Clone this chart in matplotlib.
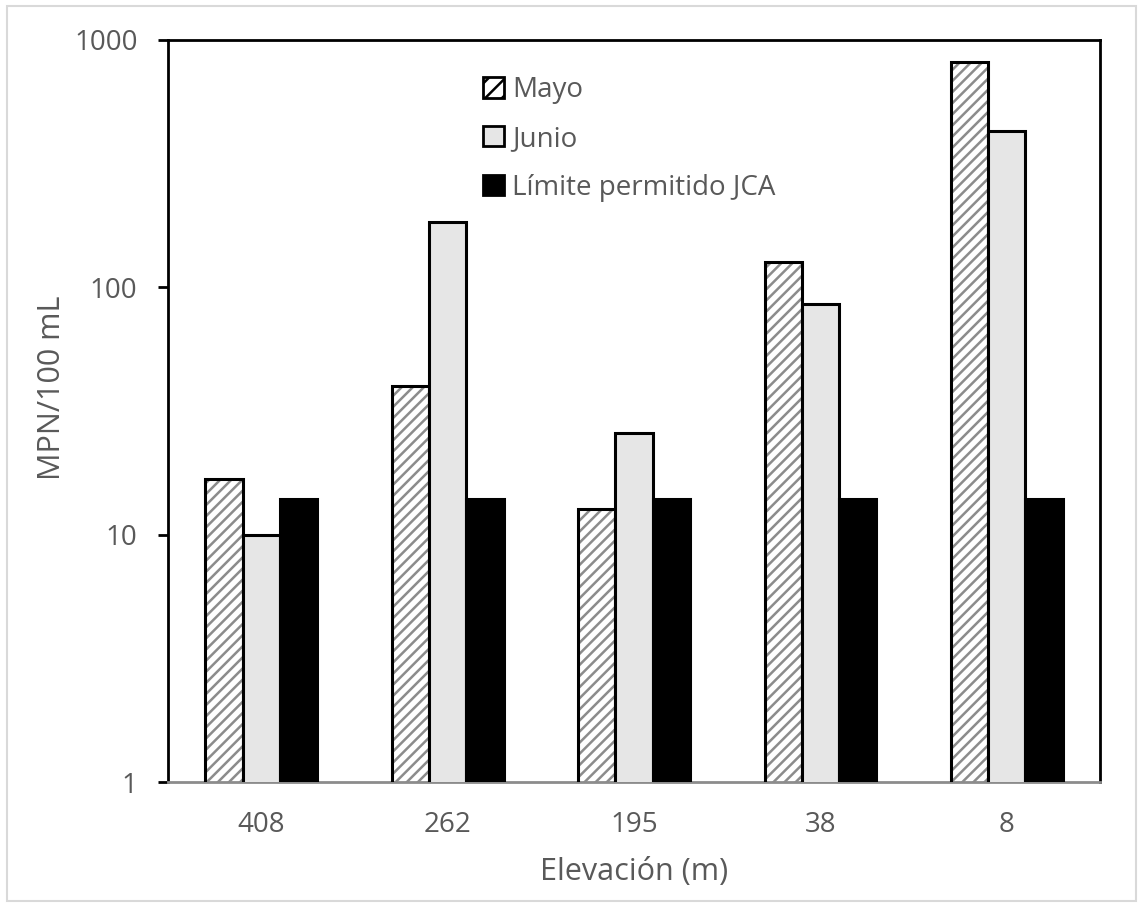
import numpy as np
import matplotlib.pyplot as plt
from matplotlib.patches import Rectangle, Patch
from matplotlib.ticker import FixedLocator, FixedFormatter, NullLocator

plt.rcParams['font.family'] = ['Open Sans', 'DejaVu Sans']
plt.rcParams['hatch.linewidth'] = 1.8

categories = ['408', '262', '195', '38', '8']
mayo = [16.8, 40, 12.7, 127, 815]
junio = [10, 184, 25.8, 86, 429]
limite = [14, 14, 14, 14, 14]
series_names = ['Mayo', 'Junio', 'Límite permitido JCA']
ytick_vals = [1, 10, 100, 1000]
ytick_labels = ['1', '10', '100', '1000']

text_color = '#595959'

fig = plt.figure(figsize=(11.43, 9.07), dpi=100)
ax = fig.add_axes([0.147, 0.1378, 0.9624 - 0.147, 0.9559 - 0.1378])

x = np.arange(len(categories))
w = 0.2

# Mayo: gray diagonal hatch with a black outline drawn on top
ax.bar(x - w, mayo, w, color='white', edgecolor='#8c8c8c',
       hatch='///', linewidth=0, zorder=2)
ax.bar(x - w, mayo, w, fill=False, edgecolor='black',
       linewidth=2.2, zorder=3)
ax.bar(x, junio, w, color='#e6e6e6', edgecolor='black',
       linewidth=2.2, zorder=3)
ax.bar(x + w, limite, w, color='black', edgecolor='black',
       linewidth=2.2, zorder=3)

ax.set_yscale('log')
ax.set_ylim(1, 1000)
ax.set_xlim(-0.5, len(categories) - 0.5)
ax.yaxis.set_major_locator(FixedLocator(ytick_vals))
ax.yaxis.set_major_formatter(FixedFormatter(ytick_labels))
ax.yaxis.set_minor_locator(NullLocator())
ax.set_xticks(x)
ax.set_xticklabels(categories)

ax.tick_params(axis='y', length=7, width=2, color='black', labelsize=20,
               labelcolor=text_color, pad=15)
ax.tick_params(axis='x', length=0, labelsize=20, labelcolor=text_color, pad=21)

for side in ['left', 'top', 'right']:
    ax.spines[side].set_color('black')
    ax.spines[side].set_linewidth(2)
ax.spines['bottom'].set_color('#8c8c8c')
ax.spines['bottom'].set_linewidth(2)

ax.set_ylabel('MPN/100 mL', fontsize=22, color=text_color)
ax.yaxis.set_label_coords(-0.108, 0.531)
ax.set_xlabel('Elevación (m)', fontsize=22, color=text_color, labelpad=13)

handles = [
    Patch(facecolor='white', edgecolor='black', hatch='//', linewidth=2),
    Patch(facecolor='#e6e6e6', edgecolor='black', linewidth=2),
    Patch(facecolor='black', edgecolor='black', linewidth=2),
]
leg = ax.legend(handles, series_names, loc='upper left',
                bbox_to_anchor=(0.311, 0.985), frameon=False, fontsize=20,
                handlelength=0.75, handleheight=0.75, handletextpad=0.3,
                labelspacing=0.75, labelcolor=text_color)

fig.patches.append(Rectangle((0.006, 0.007), 0.988, 0.986, transform=fig.transFigure,
                             fill=False, edgecolor='#d9d9d9', linewidth=1.5))

fig.savefig('out.png', dpi=100)
